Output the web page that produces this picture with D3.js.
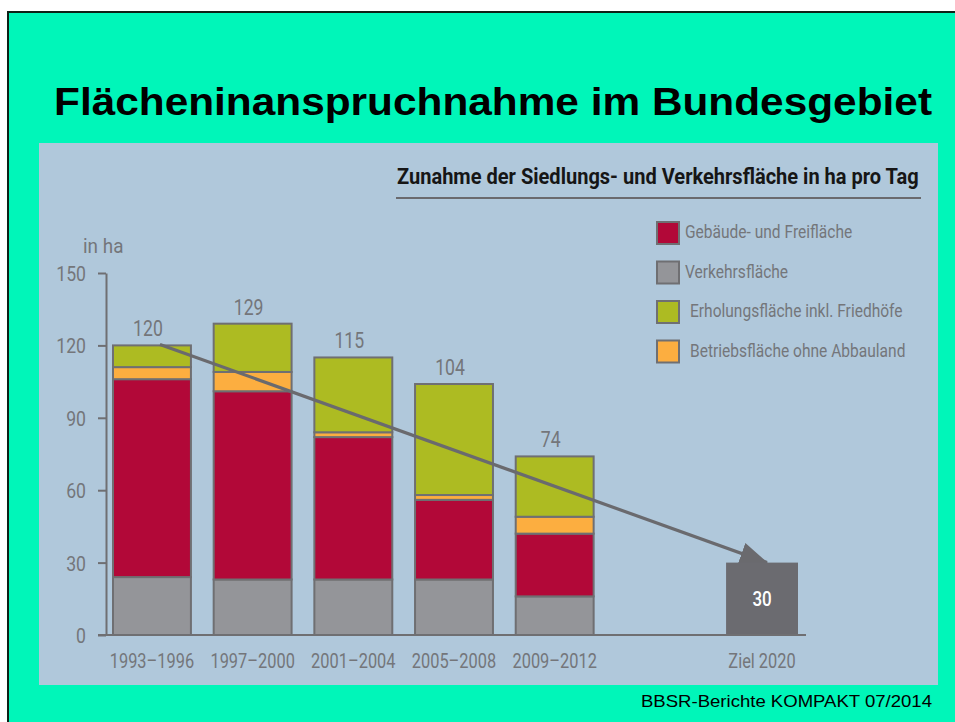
<!DOCTYPE html>
<html>
<head>
<meta charset="utf-8">
<script src="https://cdn.jsdelivr.net/npm/d3@7"></script>
<style>
  html, body { margin: 0; padding: 0; background: #ffffff; }
  svg { display: block; }
</style>
</head>
<body>
<svg id="chart" width="955" height="722"></svg>
<script>
// ---------- data ----------
const periods   = ["1993–1996", "1997–2000", "2001–2004", "2005–2008", "2009–2012"];
const verkehr   = [24, 23, 23, 23, 16];   // Verkehrsfläche
const gebaeude  = [82, 78, 59, 33, 26];   // Gebäude- und Freifläche
const betrieb   = [5, 8, 2, 2, 7];        // Betriebsfläche ohne Abbauland
const erholung  = [9, 20, 31, 46, 25];    // Erholungsfläche inkl. Friedhöfe
const totals    = [120, 129, 115, 104, 74];
const goalLabel = "Ziel 2020";
const goalValue = 30;
const yTicks    = [0, 30, 60, 90, 120, 150];
const legendKeys   = ["gebaeude", "verkehr", "erholung", "betrieb"];
const legendLabels = ["Gebäude- und Freifläche", "Verkehrsfläche", "Erholungsfläche inkl. Friedhöfe", "Betriebsfläche ohne Abbauland"];

// ---------- styles ----------
const colors = { verkehr: "#949599", gebaeude: "#b20838", betrieb: "#fcae40", erholung: "#adbb22" };
const strokeCol = "#6f6f72";
const textGray = "#74767a";
const condFont = "Roboto, 'Liberation Sans', sans-serif";

const svg = d3.select("#chart");

// slide background
svg.append("rect").attr("x", 8).attr("y", 12).attr("width", 960).attr("height", 720)
  .attr("fill", "#00f6b9").attr("stroke", "#0d2117").attr("stroke-width", 2);

// title
svg.append("text").attr("x", 54).attr("y", 115)
  .attr("font-family", "'Liberation Sans', Arial, sans-serif").attr("font-weight", "bold")
  .attr("font-size", 39).attr("fill", "#000")
  .attr("textLength", 878).attr("lengthAdjust", "spacingAndGlyphs")
  .text("Flächeninanspruchnahme im Bundesgebiet");

// chart panel
svg.append("rect").attr("x", 39).attr("y", 143).attr("width", 899).attr("height", 542).attr("fill", "#b0c8db");

// footer
svg.append("text").attr("x", 641).attr("y", 707)
  .attr("font-family", "'Liberation Sans', Arial, sans-serif").attr("font-size", 17).attr("fill", "#000")
  .attr("textLength", 291).attr("lengthAdjust", "spacingAndGlyphs")
  .text("BBSR-Berichte KOMPAKT 07/2014");

function condense(sel, factor) {
  sel.each(function () {
    const w = this.getComputedTextLength();
    d3.select(this).attr("textLength", w * factor).attr("lengthAdjust", "spacingAndGlyphs");
  });
}

// subtitle (horizontally scaled to fit its rule)
const sub = svg.append("text").attr("x", 0).attr("y", 0)
  .attr("font-family", condFont).attr("font-weight", "bold").attr("font-size", 22).attr("fill", "#161616")
  .text("Zunahme der Siedlungs- und Verkehrsfläche in ha pro Tag");
const subW = sub.node().getComputedTextLength();
sub.attr("transform", `translate(397,184) scale(${522 / subW},1)`);
svg.append("line").attr("x1", 396).attr("x2", 921).attr("y1", 198).attr("y2", 198)
  .attr("stroke", "#6a6a6e").attr("stroke-width", 2);

// ---------- scales ----------
const axisX = 106;
const xDomain = periods.concat(["", goalLabel]);
const x = d3.scaleBand().domain(xDomain).range([113, 795]).paddingInner(0.226).paddingOuter(0).align(0);
const y = d3.scaleLinear().domain([0, 150]).range([635, 273]);
const bw = x.bandwidth();

// ---------- stacked bars ----------
const rows = periods.map((p, i) => ({ period: p, verkehr: verkehr[i], gebaeude: gebaeude[i], betrieb: betrieb[i], erholung: erholung[i] }));
const stack = d3.stack().keys(["verkehr", "gebaeude", "betrieb", "erholung"]);
const layers = stack(rows);

const gBars = svg.append("g");
layers.forEach(layer => {
  gBars.selectAll(null).data(layer).enter().append("rect")
    .attr("x", d => x(d.data.period))
    .attr("y", d => y(d[1]))
    .attr("width", bw)
    .attr("height", d => y(d[0]) - y(d[1]))
    .attr("fill", colors[layer.key])
    .attr("stroke", strokeCol).attr("stroke-width", 2);
});

// totals
svg.append("g").selectAll("text").data(periods).enter().append("text")
  .attr("x", (p) => x(p) + bw / 2 - 4)
  .attr("y", (p, i) => y(totals[i]) - 9)
  .attr("text-anchor", "middle").attr("font-family", condFont).attr("font-size", 21.5).attr("fill", textGray)
  .text((p, i) => totals[i])
  .call(condense, 0.82);

// trend arrow
const defs = svg.append("defs");
defs.append("marker").attr("id", "head").attr("markerUnits", "userSpaceOnUse")
  .attr("viewBox", "0 -12 28 24").attr("markerWidth", 28).attr("markerHeight", 24)
  .attr("refX", 27).attr("refY", 0).attr("orient", "auto")
  .append("path").attr("d", "M0,-11L28,0L0,11Z").attr("fill", "#6a6a6e");

svg.append("line")
  .attr("x1", x(periods[0]) + bw / 2 + 8).attr("y1", y(totals[0]) - 1)
  .attr("x2", x(goalLabel) + bw / 2 + 11).attr("y2", y(goalValue))
  .attr("stroke", "#6a6a6e").attr("stroke-width", 3.2)
  .attr("marker-end", "url(#head)");

// goal bar
const goalW = bw - 6;
svg.append("rect")
  .attr("x", x(goalLabel) + bw / 2 + 6 - goalW / 2).attr("y", y(goalValue))
  .attr("width", goalW).attr("height", y(0) - y(goalValue))
  .attr("fill", "#6b6b70");
svg.append("text")
  .attr("x", x(goalLabel) + bw / 2 + 6).attr("y", (y(0) + y(goalValue)) / 2 + 7)
  .attr("text-anchor", "middle").attr("font-family", condFont).attr("font-weight", "500")
  .attr("font-size", 20).attr("fill", "#ffffff")
  .text(goalValue).call(condense, 0.85);

// ---------- axes ----------
const yAxis = svg.append("g").attr("transform", `translate(${axisX},0)`)
  .call(d3.axisLeft(y).tickValues(yTicks).tickSize(8).tickSizeOuter(0).tickPadding(12));
yAxis.select(".domain").attr("stroke", strokeCol).attr("stroke-width", 2);
yAxis.selectAll(".tick line").attr("stroke", strokeCol).attr("stroke-width", 2);
yAxis.selectAll(".tick text").attr("font-family", condFont).attr("font-size", 21).attr("fill", textGray)
  .attr("dy", "0.36em").call(condense, 0.84);

// baseline
svg.append("line")
  .attr("x1", axisX - 8).attr("x2", x(goalLabel) + bw / 2 + 6 + goalW / 2 + 8)
  .attr("y1", y(0)).attr("y2", y(0))
  .attr("stroke", strokeCol).attr("stroke-width", 2);

// category labels
svg.append("g").selectAll("text").data(periods.concat([goalLabel])).enter().append("text")
  .attr("x", p => x(p) + bw / 2 + (p === goalLabel ? 6 : 0))
  .attr("y", 668)
  .attr("text-anchor", "middle").attr("font-family", condFont).attr("font-size", 19.5).attr("fill", textGray)
  .text(p => p).call(condense, 0.84);

// unit label
svg.append("text").attr("x", 83).attr("y", 253)
  .attr("font-family", condFont).attr("font-size", 21).attr("fill", textGray)
  .text("in ha").call(condense, 0.9);

// ---------- legend ----------
const lg = svg.append("g").selectAll("g").data(legendKeys).enter().append("g")
  .attr("transform", (k, i) => `translate(657,${222 + i * 39.5})`);
lg.append("rect").attr("width", 22).attr("height", 22)
  .attr("fill", k => colors[k]).attr("stroke", strokeCol).attr("stroke-width", 2);
lg.append("text").attr("x", (k, i) => i < 2 ? 28 : 33).attr("y", 16)
  .attr("font-family", condFont).attr("font-size", 18.5).attr("fill", textGray)
  .text((k, i) => legendLabels[i]).call(condense, 0.84);
</script>
</body>
</html>
